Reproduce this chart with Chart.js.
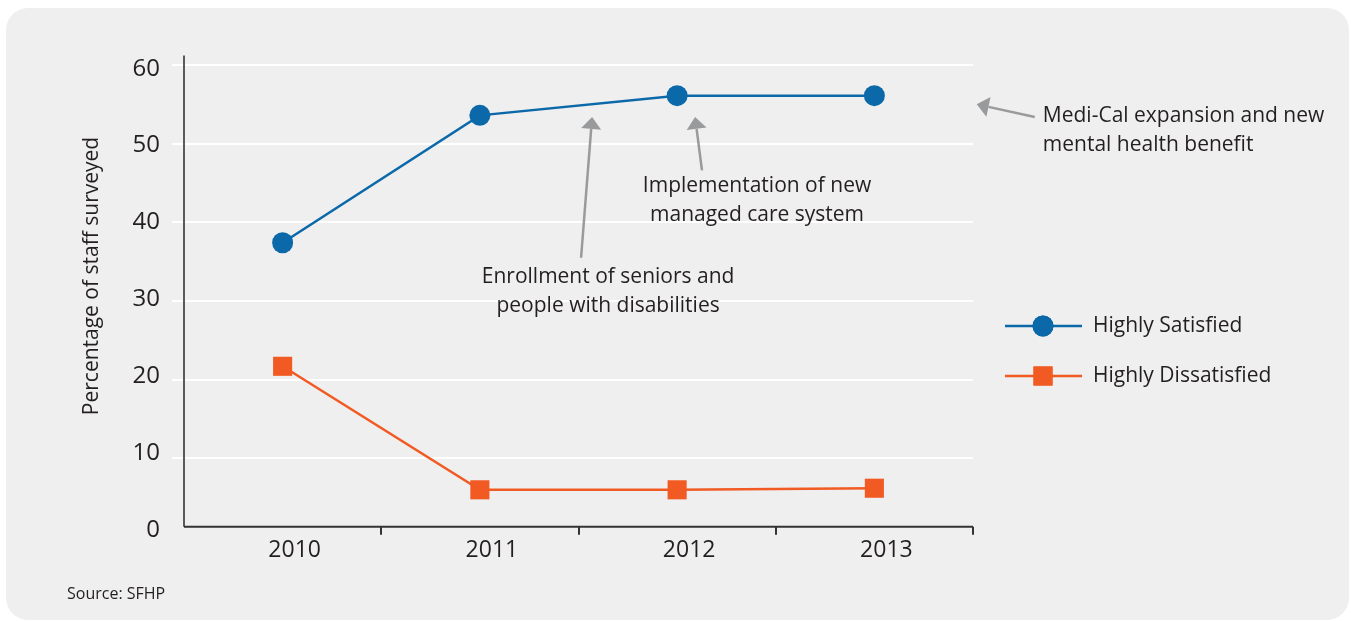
<!DOCTYPE html>
<html lang="en">
<head>
<meta charset="UTF-8">
<title>Staff satisfaction</title>
<script src="https://cdn.jsdelivr.net/npm/chart.js"></script>
<style>
    body {
        margin: 0;
        background: #ffffff;
        font-family: "Open Sans", sans-serif;
    }
    .panel {
        position: absolute;
        left: 6px;
        top: 8px;
        width: 1343px;
        height: 612px;
        background: #efefef;
        border-radius: 22px;
    }
    .source {
        position: absolute;
        left: 67px;
        top: 582px;
        font-size: 16px;
        color: #231f20;
    }
    #chart {
        position: absolute;
        left: 0;
        top: 0;
    }
</style>
</head>
<body>
<div class="panel"></div>
<canvas id="chart" width="1351" height="621"></canvas>
<div class="source">Source: SFHP</div>

<script>
    // data
    const years = ['2010', '2011', '2012', '2013'];
    const highlySatisfied = [37.4, 53.6, 56.1, 56.1];
    const highlyDissatisfied = [21.7, 6.0, 6.0, 6.2];
    const yTicks = [0, 10, 20, 30, 40, 50, 60];
    const yTitle = 'Percentage of staff surveyed';

    // annotations: [x index, value] of tail, tip and text anchor
    const noteLines = [
        ['Enrollment of seniors and', 'people with disabilities'],
        ['Implementation of new', 'managed care system'],
        ['Medi-Cal expansion and new', 'mental health benefit']
    ];
    const noteTails = [[1.513, 35.5], [2.126, 46.6], [3.813, 53.4]];
    const noteTips = [[1.569, 53.4], [2.091, 53.4], [3.519, 55.0]];
    const noteText = [[1.65, 33.0, 'center'], [2.405, 44.6, 'center'], [3.854, 53.5, 'left']];

    const BLUE = '#0b68a9';
    const ORANGE = '#f15a22';
    const TEXT = '#231f20';
    const ARROW = '#999a9c';

    function arrow(ctx, x1, y1, x2, y2) {
        const a = Math.atan2(y2 - y1, x2 - x1);
        const len = 12, half = 10;
        const bx = x2 - len * Math.cos(a), by = y2 - len * Math.sin(a);
        ctx.strokeStyle = ARROW;
        ctx.fillStyle = ARROW;
        ctx.lineWidth = 2.5;
        ctx.beginPath();
        ctx.moveTo(x1, y1);
        ctx.lineTo(bx, by);
        ctx.stroke();
        ctx.beginPath();
        ctx.moveTo(x2, y2);
        ctx.lineTo(bx + half * Math.sin(a), by - half * Math.cos(a));
        ctx.lineTo(bx - half * Math.sin(a), by + half * Math.cos(a));
        ctx.closePath();
        ctx.fill();
    }

    const extras = {
        id: 'extras',
        beforeDatasetsDraw(chart) {
            const ctx = chart.ctx;
            const x = chart.scales.x, y = chart.scales.y;
            const area = chart.chartArea;
            const axisY = y.getPixelForValue(1.3);
            ctx.save();
            // y axis line
            ctx.strokeStyle = '#5a5a5a';
            ctx.lineWidth = 2;
            ctx.beginPath();
            ctx.moveTo(area.left, y.getPixelForValue(61.2));
            ctx.lineTo(area.left, axisY);
            ctx.stroke();
            // x axis line with ticks between categories
            ctx.strokeStyle = '#333333';
            ctx.beginPath();
            ctx.moveTo(area.left, axisY);
            ctx.lineTo(area.right, axisY);
            for (let i = 0; i < years.length; i++) {
                const px = Math.round(x.getPixelForValue(i + 0.5));
                ctx.moveTo(px, axisY);
                ctx.lineTo(px, axisY + 8);
            }
            ctx.stroke();
            // y tick labels (spaced a little tighter than the grid in the original)
            ctx.fillStyle = TEXT;
            ctx.font = '24px "Open Sans"';
            ctx.textAlign = 'right';
            ctx.textBaseline = 'middle';
            yTicks.forEach(v => {
                ctx.fillText(String(v), area.left - 24, y.getPixelForValue(v) - 7 + 10.7 * v / 60);
            });
            // y title
            ctx.save();
            ctx.translate(92, 276);
            ctx.rotate(-Math.PI / 2);
            ctx.textAlign = 'center';
            ctx.font = '21px "Open Sans"';
            ctx.fillText(yTitle, 0, 0);
            ctx.restore();
            ctx.restore();
        },
        afterDraw(chart) {
            const ctx = chart.ctx;
            const x = chart.scales.x, y = chart.scales.y;
            ctx.save();
            // annotations
            noteTails.forEach((t, i) => {
                arrow(ctx, x.getPixelForValue(t[0]), y.getPixelForValue(t[1]),
                    x.getPixelForValue(noteTips[i][0]), y.getPixelForValue(noteTips[i][1]));
            });
            ctx.fillStyle = TEXT;
            ctx.font = '21px "Open Sans"';
            ctx.textBaseline = 'middle';
            noteText.forEach((n, i) => {
                ctx.textAlign = n[2];
                const px = x.getPixelForValue(n[0]);
                const py = y.getPixelForValue(n[1]);
                noteLines[i].forEach((line, j) => ctx.fillText(line, px, py + j * 29));
            });
            // legend
            chart.data.datasets.forEach((ds, i) => {
                const ly = 326 + i * 50;
                ctx.strokeStyle = ds.borderColor;
                ctx.lineWidth = ds.borderWidth;
                ctx.beginPath();
                ctx.moveTo(1005, ly);
                ctx.lineTo(1082, ly);
                ctx.stroke();
                ctx.fillStyle = ds.backgroundColor;
                Chart.helpers.drawPoint(ctx, {
                    pointStyle: ds.pointStyle,
                    radius: ds.pointRadius,
                    rotation: 0,
                    borderWidth: 0
                }, 1043, ly);
                ctx.fill();
                ctx.fillStyle = TEXT;
                ctx.textAlign = 'left';
                ctx.fillText(ds.label, 1093, ly);
            });
            ctx.restore();
        }
    };

    new Chart(document.getElementById('chart'), {
        type: 'line',
        data: {
            labels: years,
            datasets: [{
                label: 'Highly Satisfied',
                data: highlySatisfied,
                borderColor: BLUE,
                backgroundColor: BLUE,
                borderWidth: 2.5,
                pointStyle: 'circle',
                pointRadius: 10.5,
                pointBorderWidth: 0,
                clip: false
            }, {
                label: 'Highly Dissatisfied',
                data: highlyDissatisfied,
                borderColor: ORANGE,
                backgroundColor: ORANGE,
                borderWidth: 2.5,
                pointStyle: 'rect',
                pointRadius: 13.5,
                pointBorderWidth: 0,
                clip: false
            }]
        },
        options: {
            responsive: false,
            animation: false,
            layout: { padding: { left: 70, top: 65, right: 378, bottom: 0 } },
            plugins: {
                legend: { display: false },
                tooltip: { enabled: false }
            },
            scales: {
                x: {
                    offset: true,
                    grid: { display: false, drawTicks: false },
                    border: { display: false },
                    ticks: { color: TEXT, font: { family: 'Open Sans', size: 23 }, padding: 0, labelOffset: 12 },
                    afterFit: (s) => { s.height = 84; }
                },
                y: {
                    min: 0,
                    max: 60,
                    afterBuildTicks: (s) => { s.ticks = yTicks.map(v => ({ value: v })); },
                    grid: {
                        color: (c) => c.tick && c.tick.value === 0 ? 'rgba(0,0,0,0)' : '#ffffff',
                        lineWidth: 2,
                        tickLength: 12
                    },
                    border: { display: false },
                    ticks: { display: false },
                    afterFit: (s) => { s.width = 114; }
                }
            }
        },
        plugins: [extras]
    });
</script>
</body>
</html>
